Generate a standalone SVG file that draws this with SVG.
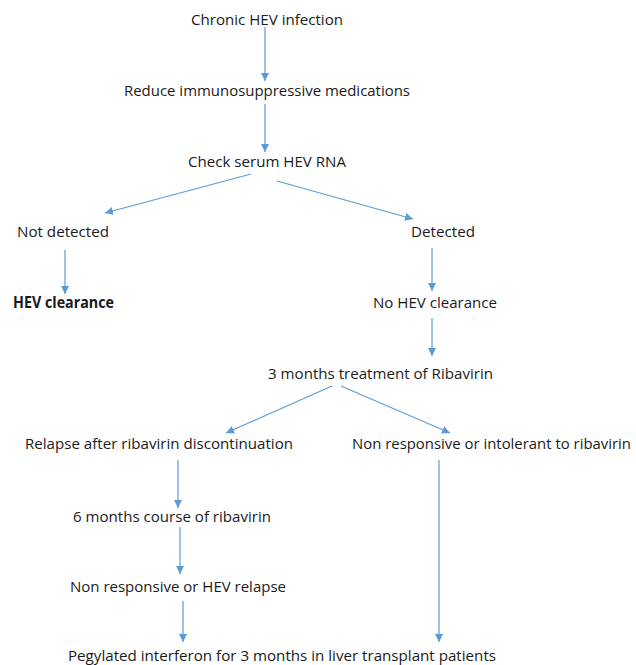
<svg xmlns="http://www.w3.org/2000/svg" width="636" height="665" viewBox="0 0 636 665">
<defs>
<marker id="ah" viewBox="0 0 10 10" refX="10" refY="5" markerWidth="8" markerHeight="8" markerUnits="userSpaceOnUse" orient="auto">
<path d="M0,0 L10,5 L0,10 z" fill="#5B9BD5"/>
</marker>
<style>
text{font-family:"Open Sans","Liberation Sans",Arial,sans-serif;font-size:15.3px;fill:#1a1a1a;}
.b{font-weight:bold;}
.s{font-size:14.6px;}
.c{stroke:#5B9BD5;stroke-width:1.2;fill:none;marker-end:url(#ah);}
</style>
</defs>
<rect width="636" height="665" fill="#fff"/>
<g id="connectors">
<line class="c" x1="265" y1="27" x2="265" y2="81"/>
<line class="c" x1="265" y1="104" x2="265" y2="152"/>
<line class="c" x1="251" y1="174" x2="105" y2="213"/>
<line class="c" x1="277" y1="181" x2="413" y2="219"/>
<line class="c" x1="65" y1="250" x2="65" y2="294"/>
<line class="c" x1="432" y1="248" x2="432" y2="291"/>
<line class="c" x1="432" y1="318" x2="432" y2="356"/>
<line class="c" x1="332" y1="386" x2="226" y2="433"/>
<line class="c" x1="341" y1="386" x2="450" y2="433"/>
<line class="c" x1="178" y1="460" x2="178" y2="508"/>
<line class="c" x1="439" y1="460" x2="439" y2="642"/>
<line class="c" x1="180" y1="527" x2="180" y2="574"/>
<line class="c" x1="183" y1="601" x2="183" y2="642"/>
</g>
<g id="n1"><text x="191" y="24.5" textLength="152" lengthAdjust="spacingAndGlyphs">Chronic HEV infection</text></g>
<g id="n2"><text x="124" y="95.5" textLength="286" lengthAdjust="spacingAndGlyphs">Reduce immunosuppressive medications</text></g>
<g id="n3"><text x="188" y="166.5" textLength="158" lengthAdjust="spacingAndGlyphs">Check serum HEV RNA</text></g>
<g id="n4"><text x="17" y="236.5" textLength="92" lengthAdjust="spacingAndGlyphs">Not detected</text></g>
<g id="n5"><text x="411" y="236.5" textLength="64" lengthAdjust="spacingAndGlyphs">Detected</text></g>
<g id="n6"><text class="b" x="13" y="307.5" textLength="101" lengthAdjust="spacingAndGlyphs">HEV clearance</text></g>
<g id="n7"><text x="373" y="307.5" textLength="124" lengthAdjust="spacingAndGlyphs">No HEV clearance</text></g>
<g id="n8"><text x="268" y="378.5" textLength="225" lengthAdjust="spacingAndGlyphs">3 months treatment of Ribavirin</text></g>
<g id="n9"><text x="25" y="448.5" textLength="268" lengthAdjust="spacingAndGlyphs">Relapse after ribavirin discontinuation</text></g>
<g id="n10"><text class="s" x="352" y="448.5" textLength="279" lengthAdjust="spacingAndGlyphs">Non responsive or intolerant to ribavirin</text></g>
<g id="n11"><text x="73" y="521.5" textLength="198" lengthAdjust="spacingAndGlyphs">6 months course of ribavirin</text></g>
<g id="n12"><text x="70" y="591.5" textLength="216" lengthAdjust="spacingAndGlyphs">Non responsive or HEV relapse</text></g>
<g id="n13"><text x="68" y="661" textLength="428" lengthAdjust="spacingAndGlyphs">Pegylated interferon for 3 months in liver transplant patients</text></g>
</svg>
